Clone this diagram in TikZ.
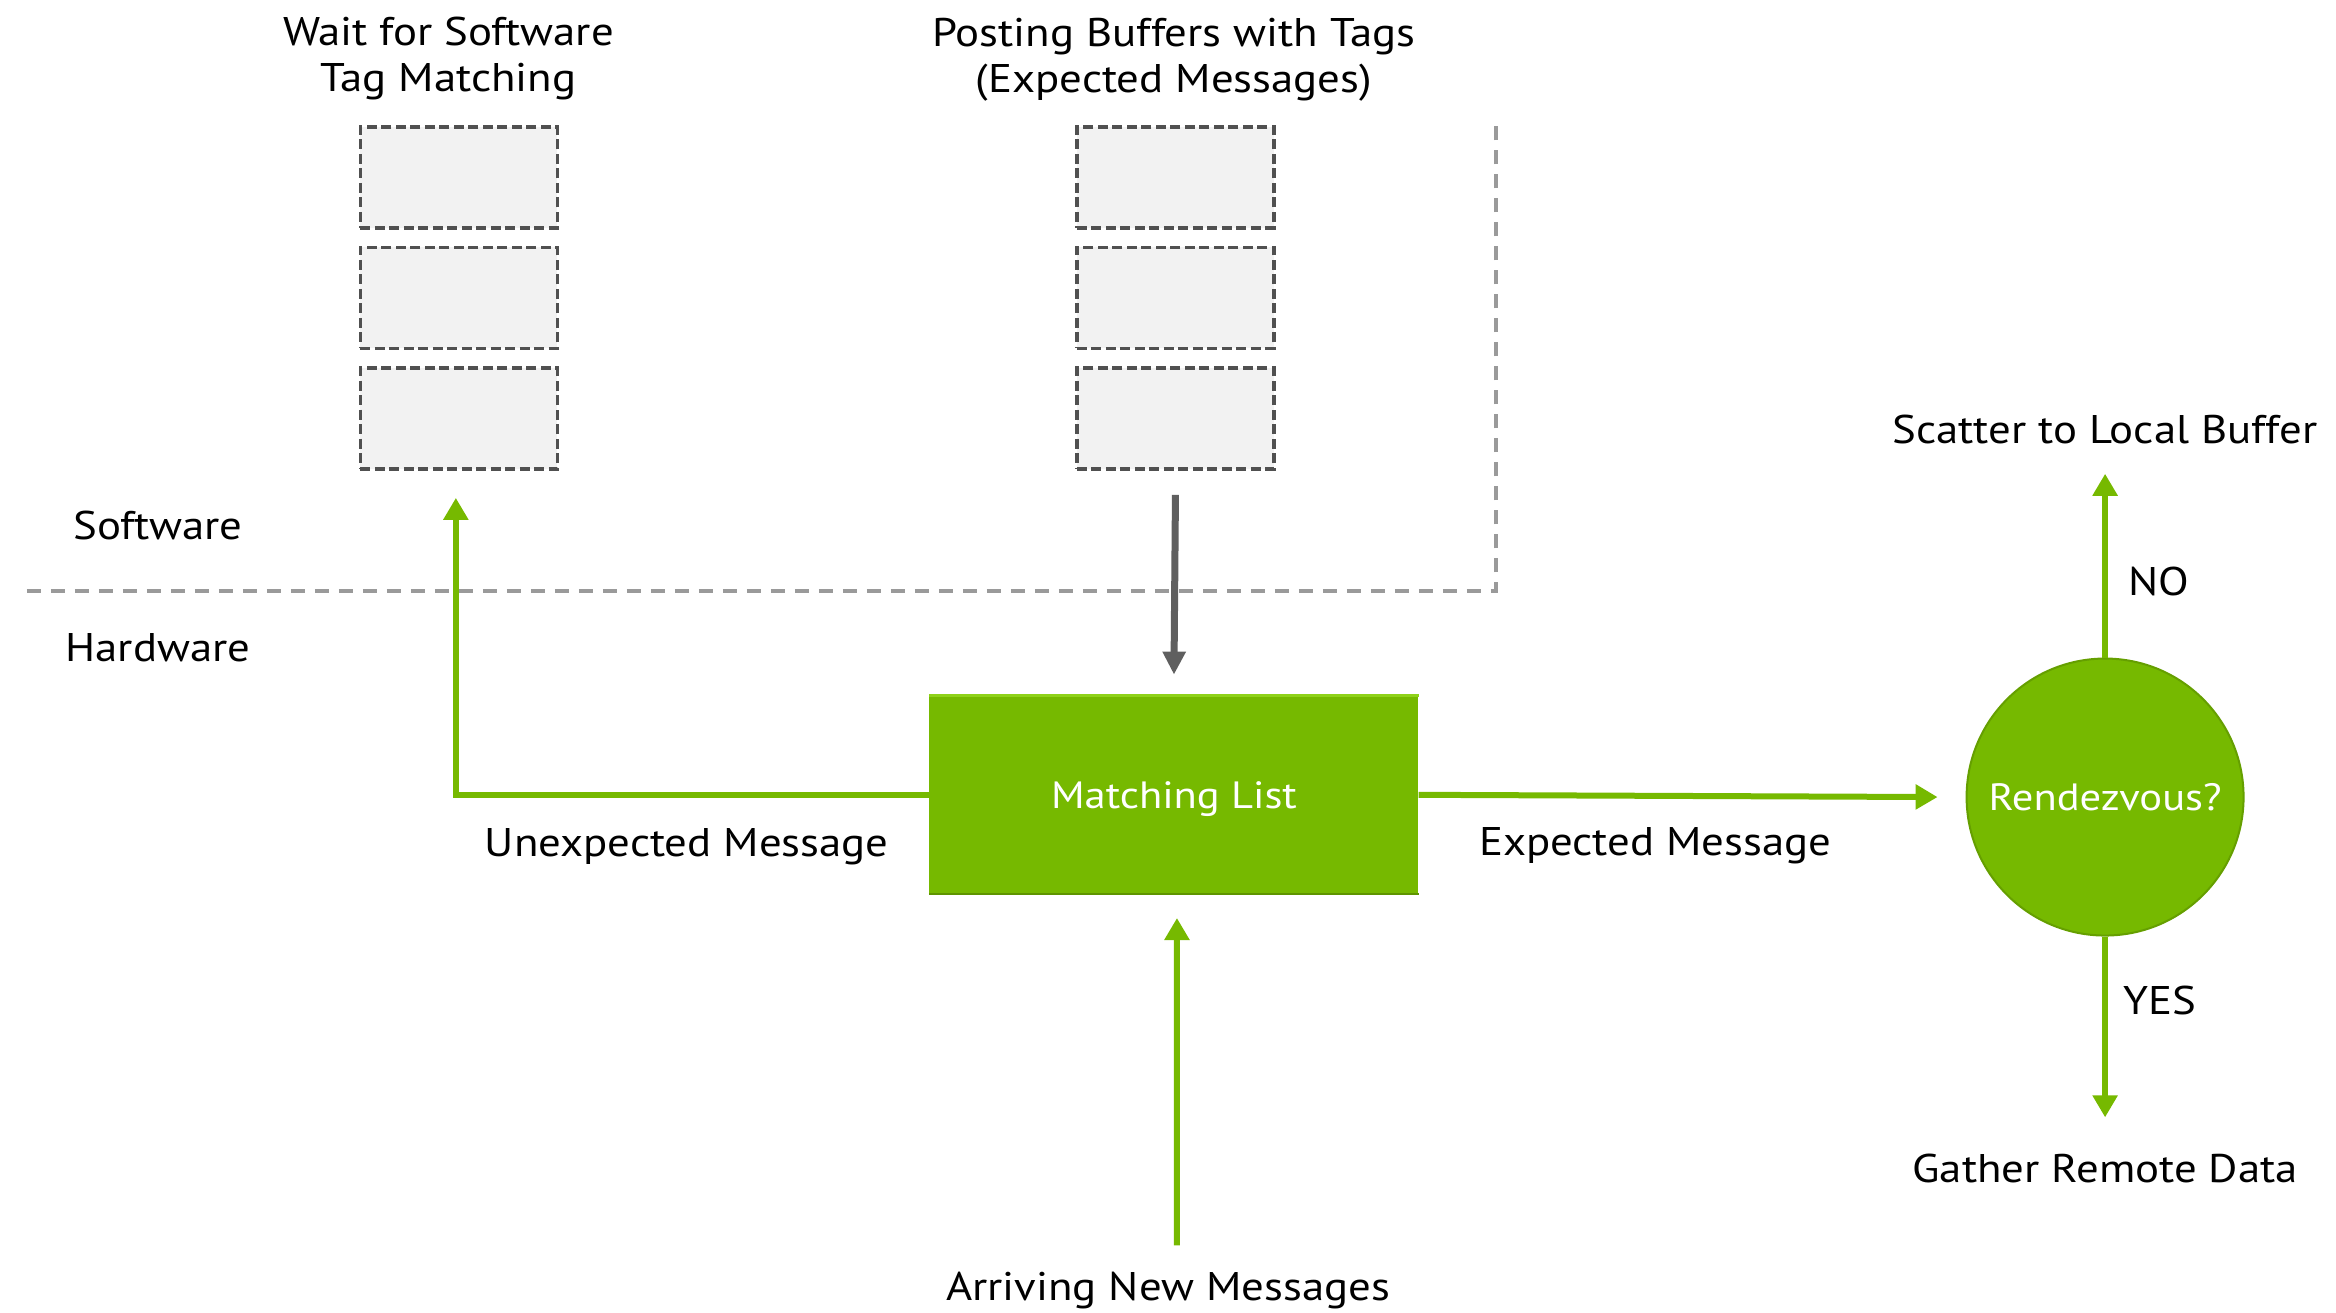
\documentclass[tikz,border=0pt]{standalone}
\usepackage{fontspec}
\setmainfont[FakeStretch=1.12]{PT Sans}
\usetikzlibrary{arrows.meta}
\definecolor{nvgreen}{HTML}{76B900}
\definecolor{nvlight}{HTML}{8FD21A}
\definecolor{nvdark}{HTML}{5E9400}
\definecolor{bufborder}{HTML}{505050}
\definecolor{buffill}{HTML}{F2F2F2}
\definecolor{arrowgray}{HTML}{5F5F5F}
\definecolor{divgray}{HTML}{9A9A9A}
\tikzset{
  label/.style={font=\fontsize{40}{46}\selectfont, text=black, inner sep=0pt},
  bufbox/.style={draw=bufborder, fill=buffill, line width=3.5pt,
    dash pattern=on 10pt off 4.5pt, minimum width=197pt, minimum height=101pt, inner sep=0pt},
  greenflow/.style={draw=nvgreen, line width=6pt,
    -{Triangle[length=22pt,width=24pt]}},
  grayflow/.style={draw=arrowgray, line width=7pt,
    -{Triangle[length=23pt,width=22pt]}},
  divider/.style={draw=divgray, line width=4pt, dash pattern=on 14pt off 10pt},
}
\begin{document}
\begin{tikzpicture}[x=1.4898pt, y=-1.4898pt]
\useasboundingbox (0,0) rectangle (1568,881);

% software / hardware boundary
\draw[divider] (18,397) -- (1004,397) -- (1004,83);
\node[label, anchor=base] (sw) at (106,362) {Software};
\node[label, anchor=base] (hw) at (106,444) {Hardware};

% queue of unexpected messages
\node[label, align=center] (waitT) at (301,39) {Wait for Software\\Tag Matching};
\node[bufbox] (w1) at (308,119) {};
\node[bufbox] (w2) at (308,200) {};
\node[bufbox] (w3) at (308,281) {};

% queue of posted buffers
\node[label, align=center] (postT) at (788,40) {Posting Buffers with Tags\\(Expected Messages)};
\node[bufbox] (p1) at (789,119) {};
\node[bufbox] (p2) at (789,200) {};
\node[bufbox] (p3) at (789,281) {};

% matching list
\node[fill=nvgreen, minimum width=489pt, minimum height=198pt, inner sep=0pt,
      text depth=0pt, text=white, font=\fontsize{38}{46}\selectfont] (ml) at (788,533.5) {Matching List};
\draw[nvlight, line width=2.5pt] (ml.north west) -- (ml.north east);
\draw[nvdark, line width=2.5pt] (ml.south west) -- (ml.south east);

% rendezvous decision
\node[circle, fill=nvgreen, draw=nvdark!70!nvgreen, line width=2pt,
      minimum size=277pt, inner sep=0pt, text=white,
      font=\fontsize{38}{46}\selectfont] (rv) at (1413,535) {Rendezvous?};

% outcome labels
\node[label, anchor=base] (sc) at (1413,298) {Scatter to Local Buffer};
\node[label, anchor=base] (ga) at (1413,794) {Gather Remote Data};
\node[label, anchor=base] (ar) at (784,873) {Arriving New Messages};
\node[label, anchor=base] (unx) at (461,575) {Unexpected Message};
\node[label, anchor=base] (exp) at (1111,574) {Expected Message};
\node[label, anchor=base] (no) at (1449,400) {NO};
\node[label, anchor=base] (yes) at (1450,681) {YES};

% connector end points
\coordinate (noTip) at (1413,318);
\coordinate (yesTip) at (1413,750);
\coordinate (arrStart) at (790,836);

% connectors
\draw[grayflow] ([yshift=-24pt]p3.south) -- ([yshift=21pt]ml.north);
\draw[greenflow] (ml.west) -| ([xshift=-3pt,yshift=-27pt]w3.south);
\draw[greenflow] (ml.east) -- ([xshift=-28pt]rv.west);
\draw[greenflow] (rv.north) -- (noTip);
\draw[greenflow] (rv.south) -- (yesTip);
\draw[greenflow] (arrStart) -- ([xshift=3pt,yshift=-24pt]ml.south);
\end{tikzpicture}
\end{document}
